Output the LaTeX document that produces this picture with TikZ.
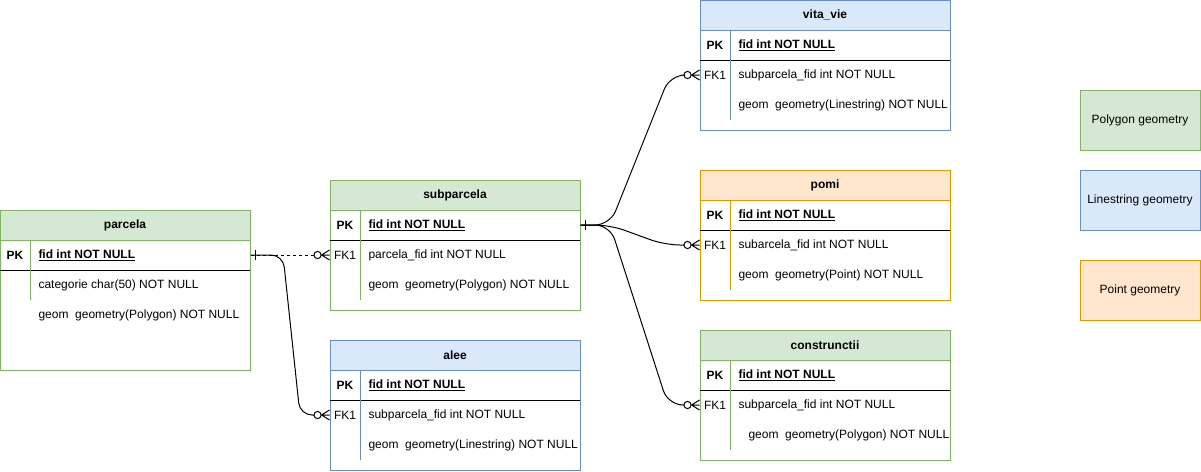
\documentclass[tikz,border=0pt]{standalone}
\usepackage{fontspec}
\setmainfont{Liberation Sans}
\usepackage{tikz}

\definecolor{greenfill}{HTML}{D5E8D4}
\definecolor{greenline}{HTML}{82B366}
\definecolor{bluefill}{HTML}{DAE8FC}
\definecolor{blueline}{HTML}{6C8EBF}
\definecolor{orangefill}{HTML}{FFE6CC}
\definecolor{orangeline}{HTML}{D79B00}

\begin{document}
\begin{tikzpicture}[x=1pt,y=-1pt,line width=1pt,
  every node/.style={font=\fontsize{12}{14}\selectfont, inner sep=0pt},
  table/.style={draw, minimum width=250pt},
  title/.style={draw, minimum width=250pt, minimum height=30pt, font=\fontsize{12}{14}\selectfont\bfseries},
  key/.style={font=\fontsize{12}{14}\selectfont\bfseries},
  fkey/.style={},
  field/.style={anchor=west},
  pkfield/.style={anchor=west, font=\fontsize{12}{14}\selectfont\bfseries},
  legend/.style={draw, minimum width=120pt, minimum height=60pt},
  zeromany/.pic={
    \draw (-8,0) -- (0,-5) (-8,0) -- (0,0) (-8,0) -- (0,5);
    \draw (-12,0) circle (3.6);
  },
  onebar/.pic={\draw (5,-5) -- (5,5);}]
  \useasboundingbox (0,0) rectangle (1201,471);

  % parcela
  \node[table, draw=greenline, minimum height=160pt] (parcela) at (125,290) {};
  \node[title, draw=greenline, fill=greenfill] (parcela-title) at (125,225) {parcela};
  \draw (0,270) -- (250,270);
  \draw[greenline] (30,240) -- (30,300);
  \node[key] (parcela-pkkey) at (15,255) {PK};
  \node[pkfield] (parcela-pk) at (38,255) {\underline{fid int NOT NULL}};
  \node[field] (parcela-cat) at (38,285) {categorie char(50) NOT NULL};
  \node[field] (parcela-geom) at (38,315) {geom\ \ geometry(Polygon) NOT NULL};

  % subparcela
  \node[table, draw=greenline, minimum height=130pt] (subparcela) at (455,245) {};
  \node[title, draw=greenline, fill=greenfill] (subparcela-title) at (455,195) {subparcela};
  \draw (330,240) -- (580,240);
  \draw[greenline] (360,210) -- (360,300);
  \node[key] (subparcela-pkkey) at (345,225) {PK};
  \node[pkfield] (subparcela-pk) at (368,225) {\underline{fid int NOT NULL}};
  \node[fkey] (subparcela-fkkey) at (345,255) {FK1};
  \node[field] (subparcela-fk) at (368,255) {parcela\_fid int NOT NULL};
  \node[field] (subparcela-geom) at (368,285) {geom\ \ geometry(Polygon) NOT NULL};

  % alee
  \node[table, draw=blueline, minimum height=130pt] (alee) at (455,405) {};
  \node[title, draw=blueline, fill=bluefill] (alee-title) at (455,355) {alee};
  \draw (330,400) -- (580,400);
  \draw[blueline] (360,370) -- (360,460);
  \node[key] (alee-pkkey) at (345,385) {PK};
  \node[pkfield] (alee-pk) at (368,385) {\underline{fid int NOT NULL}};
  \node[fkey] (alee-fkkey) at (345,415) {FK1};
  \node[field] (alee-fk) at (368,415) {subparcela\_fid int NOT NULL};
  \node[field] (alee-geom) at (368,445) {geom\ \ geometry(Linestring) NOT NULL};

  % vita_vie
  \node[table, draw=blueline, minimum height=130pt] (vitavie) at (825,65) {};
  \node[title, draw=blueline, fill=bluefill] (vitavie-title) at (825,15) {vita\_vie};
  \draw (700,60) -- (950,60);
  \draw[blueline] (730,30) -- (730,120);
  \node[key] (vitavie-pkkey) at (715,45) {PK};
  \node[pkfield] (vitavie-pk) at (738,45) {\underline{fid int NOT NULL}};
  \node[fkey] (vitavie-fkkey) at (715,75) {FK1};
  \node[field] (vitavie-fk) at (738,75) {subparcela\_fid int NOT NULL};
  \node[field] (vitavie-geom) at (738,105) {geom\ \ geometry(Linestring) NOT NULL};

  % pomi
  \node[table, draw=orangeline, minimum height=130pt] (pomi) at (825,235) {};
  \node[title, draw=orangeline, fill=orangefill] (pomi-title) at (825,185) {pomi};
  \draw (700,230) -- (950,230);
  \draw[orangeline] (730,200) -- (730,290);
  \node[key] (pomi-pkkey) at (715,215) {PK};
  \node[pkfield] (pomi-pk) at (738,215) {\underline{fid int NOT NULL}};
  \node[fkey] (pomi-fkkey) at (715,245) {FK1};
  \node[field] (pomi-fk) at (738,245) {subarcela\_fid int NOT NULL};
  \node[field] (pomi-geom) at (738,275) {geom\ \ geometry(Point) NOT NULL};

  % construnctii
  \node[table, draw=greenline, minimum height=130pt] (constr) at (825,395) {};
  \node[title, draw=greenline, fill=greenfill] (constr-title) at (825,345) {construnctii};
  \draw (700,390) -- (950,390);
  \draw[greenline] (730,360) -- (730,450);
  \node[key] (constr-pkkey) at (715,375) {PK};
  \node[pkfield] (constr-pk) at (738,375) {\underline{fid int NOT NULL}};
  \node[fkey] (constr-fkkey) at (715,405) {FK1};
  \node[field] (constr-fk) at (738,405) {subparcela\_fid int NOT NULL};
  \node[field] (constr-geom) at (748,435) {geom\ \ geometry(Polygon) NOT NULL};

  % legend
  \node[legend, draw=greenline, fill=greenfill] (leg-poly) at (1140,120) {Polygon geometry};
  \node[legend, draw=blueline, fill=bluefill] (leg-line) at (1140,200) {Linestring geometry};
  \node[legend, draw=orangeline, fill=orangefill] (leg-point) at (1140,290) {Point geometry};

  % relations
  \draw[dash pattern=on 3pt off 3pt, shorten >=15.6pt] (parcela.east |- parcela-pk) -- (subparcela.west |- subparcela-fk);
  \draw[rounded corners=12pt, shorten >=15.6pt] (parcela.east |- parcela-pk) -- (283,255) -- (300,415) -- (alee.west |- alee-fk);
  \draw[rounded corners=15pt, shorten >=15.6pt] (subparcela.east |- subparcela-pk) -- (610,225) -- (670,75) -- (vitavie.west |- vitavie-fk);
  \draw[rounded corners=15pt, shorten >=15.6pt] (subparcela.east |- subparcela-pk) -- (610,225) -- (665,245) -- (pomi.west |- pomi-fk);
  \draw[rounded corners=15pt, shorten >=15.6pt] (subparcela.east |- subparcela-pk) -- (610,225) -- (668,405) -- (constr.west |- constr-fk);

  \pic at (parcela.east |- parcela-pk) {onebar};
  \pic at (subparcela.east |- subparcela-pk) {onebar};
  \pic at (subparcela.west |- subparcela-fk) {zeromany};
  \pic at (alee.west |- alee-fk) {zeromany};
  \pic at (vitavie.west |- vitavie-fk) {zeromany};
  \pic at (pomi.west |- pomi-fk) {zeromany};
  \pic at (constr.west |- constr-fk) {zeromany};
\end{tikzpicture}
\end{document}
